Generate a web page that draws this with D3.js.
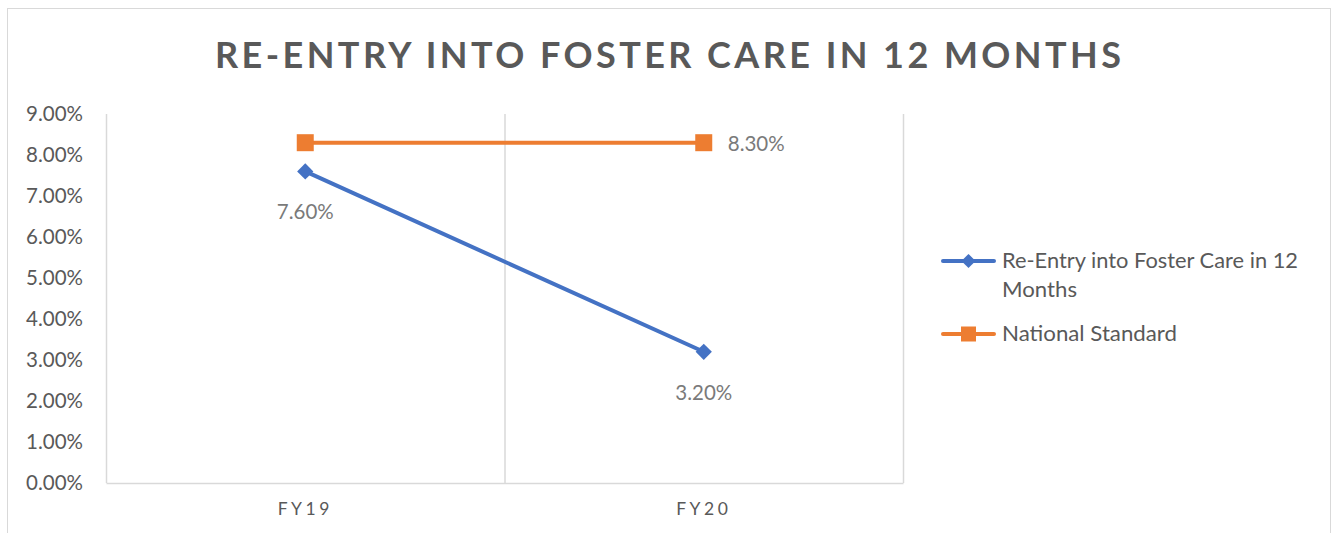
<!DOCTYPE html>
<html><head><meta charset="utf-8">
<script src="https://cdn.jsdelivr.net/npm/d3@7"></script>
<style>body{margin:0;background:#fff}svg{display:block}</style>
</head><body>
<script>
const categories = ["FY19", "FY20"];
const reEntry = [0.076, 0.032];
const nationalStandard = [0.083, 0.083];
const yTicks = [0, 0.01, 0.02, 0.03, 0.04, 0.05, 0.06, 0.07, 0.08, 0.09];
const seriesNames = ["Re-Entry into Foster Care in 12 Months", "National Standard"];
const titleText = "RE-ENTRY INTO FOSTER CARE IN 12 MONTHS";

const W = 1336, H = 533;
const font = "Lato, 'Open Sans', sans-serif";
const fs = 20.5;
const svg = d3.select("body").append("svg").attr("width", W).attr("height", H);
svg.append("rect").attr("width", W).attr("height", H).attr("fill", "#fff");
svg.append("rect").attr("x", 7.5).attr("y", 8.5).attr("width", 1323).attr("height", 560)
  .attr("fill", "#fff").attr("stroke", "#d9d9d9").attr("stroke-width", 1);

const L = 106, R = 903, T = 114, B = 483;
const x = d3.scaleBand().domain(categories).range([L, R]);
const y = d3.scaleLinear().domain([0, 0.09]).range([B, T]);

// title
svg.append("text").attr("x", 668).attr("y", 68).attr("text-anchor", "middle")
  .attr("font-family", font).attr("font-weight", "bold").attr("font-size", 36)
  .attr("fill", "#595959").attr("textLength", 906).attr("lengthAdjust", "spacing")
  .text(titleText);

// vertical gridlines at band boundaries
const bounds = categories.map(c => x(c)).concat([R]);
svg.selectAll("line.vg").data(bounds).enter().append("line")
  .attr("x1", d => d + 0.5).attr("x2", d => d + 0.5).attr("y1", T).attr("y2", B)
  .attr("stroke", "#d9d9d9").attr("stroke-width", 1.5);

// x axis
const xAxis = svg.append("g").attr("transform", `translate(0,${B})`)
  .call(d3.axisBottom(x).tickSize(0).tickPadding(20));
xAxis.select(".domain").attr("stroke", "#d9d9d9").attr("stroke-width", 1.5);
xAxis.selectAll("text").attr("font-family", font).attr("font-size", 17.5)
  .attr("fill", "#595959").attr("letter-spacing", "3.5px").attr("dy", "0.71em");

// y axis
const yAxis = svg.append("g").attr("transform", `translate(${L - 20},0)`)
  .call(d3.axisLeft(y).tickValues(yTicks).tickFormat(d3.format(".2%")).tickSize(0).tickPadding(3));
yAxis.select(".domain").remove();
yAxis.selectAll("text").attr("font-family", font).attr("font-size", fs).attr("fill", "#595959");

const line = d3.line().x((d, i) => x(categories[i]) + x.bandwidth() / 2).y(d => y(d));
const blue = "#4472C4", orange = "#ED7D31";

svg.append("path").datum(nationalStandard).attr("d", line).attr("fill", "none")
  .attr("stroke", orange).attr("stroke-width", 4).attr("stroke-linecap", "round");
svg.append("path").datum(reEntry).attr("d", line).attr("fill", "none")
  .attr("stroke", blue).attr("stroke-width", 4).attr("stroke-linecap", "round");

const sq = d3.symbol().type(d3.symbolSquare).size(17 * 17);
svg.selectAll("path.sq").data(nationalStandard).enter().append("path")
  .attr("d", sq).attr("fill", orange)
  .attr("transform", (d, i) => `translate(${x(categories[i]) + x.bandwidth() / 2},${y(d)})`);
svg.selectAll("path.dm").data(reEntry).enter().append("path")
  .attr("d", d3.symbol().type(d3.symbolSquare).size(11.5 * 11.5)).attr("fill", blue)
  .attr("transform", (d, i) => `translate(${x(categories[i]) + x.bandwidth() / 2},${y(d)}) rotate(45)`);

const fmt = d3.format(".2%");
// data labels
svg.selectAll("text.lb").data(reEntry).enter().append("text")
  .attr("x", (d, i) => x(categories[i]) + x.bandwidth() / 2).attr("y", d => y(d) + 48)
  .attr("text-anchor", "middle").attr("font-family", font).attr("font-size", fs)
  .attr("fill", "#7a7a7a").text(d => fmt(d));
svg.append("text")
  .attr("x", x(categories[1]) + x.bandwidth() / 2 + 24).attr("y", y(nationalStandard[1]) + 8)
  .attr("font-family", font).attr("font-size", fs).attr("fill", "#7a7a7a")
  .text(fmt(nationalStandard[1]));

// legend
const lg = svg.append("g");
const lx1 = 943, lx2 = 994;
lg.append("line").attr("x1", lx1).attr("x2", lx2).attr("y1", 261).attr("y2", 261)
  .attr("stroke", blue).attr("stroke-width", 4).attr("stroke-linecap", "round");
lg.append("path").attr("d", d3.symbol().type(d3.symbolSquare).size(10 * 10)).attr("fill", blue)
  .attr("transform", `translate(${(lx1 + lx2) / 2},261) rotate(45)`);
lg.append("line").attr("x1", lx1).attr("x2", lx2).attr("y1", 334).attr("y2", 334)
  .attr("stroke", orange).attr("stroke-width", 4).attr("stroke-linecap", "round");
lg.append("path").attr("d", d3.symbol().type(d3.symbolSquare).size(15 * 15)).attr("fill", orange)
  .attr("transform", `translate(${(lx1 + lx2) / 2},334)`);
const words = seriesNames[0].split(" ");
const lt = lg.append("text").attr("font-family", font).attr("font-size", fs).attr("fill", "#595959");
lt.append("tspan").attr("x", 1002).attr("y", 268).attr("textLength", 296).attr("lengthAdjust", "spacingAndGlyphs")
  .text(words.slice(0, -1).join(" "));
lt.append("tspan").attr("x", 1002).attr("y", 297).attr("textLength", 75).attr("lengthAdjust", "spacingAndGlyphs")
  .text(words[words.length - 1]);
lg.append("text").attr("x", 1002).attr("y", 341).attr("font-family", font).attr("font-size", fs)
  .attr("fill", "#595959").attr("textLength", 175).attr("lengthAdjust", "spacingAndGlyphs")
  .text(seriesNames[1]);
</script>
</body></html>
